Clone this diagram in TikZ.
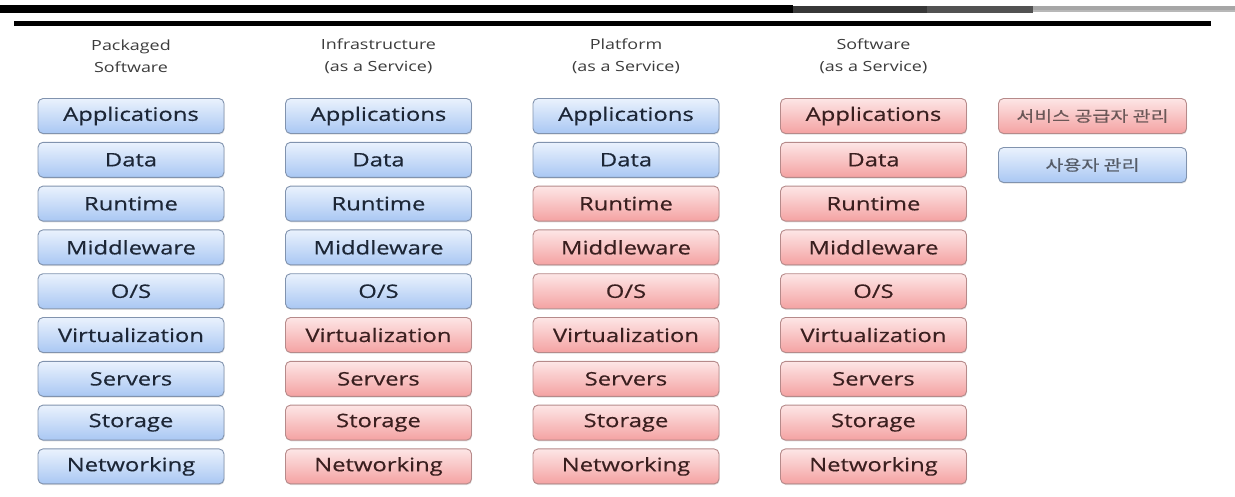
\documentclass[tikz,border=0pt]{standalone}
\usepackage{fontspec}
\setmainfont{Open Sans}[FakeStretch=1.28, FakeBold=0.4]
\newfontfamily\headfont{Open Sans}[FakeStretch=1.28]
\newfontfamily\kofont{Noto Sans CJK KR}[FakeStretch=1.3, FakeBold=0.3]
\usepackage{tikz}
\usetikzlibrary{positioning, shadows}
\definecolor{usertop}{HTML}{EAF2FD}
\definecolor{userbot}{HTML}{A9C7F3}
\definecolor{userline}{HTML}{8193AE}
\definecolor{usertext}{HTML}{1C2636}
\definecolor{vendtop}{HTML}{FDE6E6}
\definecolor{vendbot}{HTML}{F4A2A2}
\definecolor{vendline}{HTML}{B68A8A}
\definecolor{vendtext}{HTML}{3A1F1F}
\definecolor{headtext}{HTML}{3C3C3C}

\begin{document}
\begin{tikzpicture}[x=1pt, y=1pt, node distance=43.8pt]
    \tikzstyle{layer} = [rectangle, draw, rounded corners=5pt, minimum width=186pt, minimum height=35pt, inner sep=0pt, line width=0.9pt, drop shadow={shadow xshift=0.6pt, shadow yshift=-1.2pt, opacity=0.25}, font=\fontsize{18.6}{18.6}\selectfont]
    \tikzstyle{user} = [layer, draw=userline, top color=usertop, bottom color=userbot, text=usertext]
    \tikzstyle{vendor} = [layer, draw=vendline, top color=vendtop, bottom color=vendbot, text=vendtext]
    \tikzstyle{key} = [minimum width=188pt, font=\kofont\fontsize{15}{15}\selectfont]
    \tikzstyle{head} = [align=center, text=headtext, font=\headfont\fontsize{14}{22}\selectfont]

    \useasboundingbox (0,0) rectangle (1235,-496);

    % title rules
    \fill[black] (0,-5) rectangle (793,-13);
    \fill[black!78] (793,-5.5) rectangle (927,-12.5);
    \fill[black!68] (927,-5.5) rectangle (1033,-12.5);
    \fill[black!35] (1033,-6) rectangle (1235,-12);
    \fill[black!28] (1033,-9.5) rectangle (1235,-12);
    \fill[black] (14,-21) rectangle (1211,-25.5);

    % packaged software
    \node [user] (pkgapp) at (131,-116) {Applications};
    \node [user, below of=pkgapp] (pkgdata) {Data};
    \node [user, below of=pkgdata] (pkgrun) {Runtime};
    \node [user, below of=pkgrun] (pkgmid) {Middleware};
    \node [user, below of=pkgmid] (pkgos) {O/S};
    \node [user, below of=pkgos] (pkgvirt) {Virtualization};
    \node [user, below of=pkgvirt] (pkgsrv) {Servers};
    \node [user, below of=pkgsrv] (pkgstor) {Storage};
    \node [user, below of=pkgstor] (pkgnet) {Networking};

    % infrastructure as a service
    \node [user, right of=pkgapp, node distance=247.5pt] (iaasapp) {Applications};
    \node [user, below of=iaasapp] (iaasdata) {Data};
    \node [user, below of=iaasdata] (iaasrun) {Runtime};
    \node [user, below of=iaasrun] (iaasmid) {Middleware};
    \node [user, below of=iaasmid] (iaasos) {O/S};
    \node [vendor, below of=iaasos] (iaasvirt) {Virtualization};
    \node [vendor, below of=iaasvirt] (iaassrv) {Servers};
    \node [vendor, below of=iaassrv] (iaasstor) {Storage};
    \node [vendor, below of=iaasstor] (iaasnet) {Networking};

    % platform as a service
    \node [user, right of=iaasapp, node distance=247.5pt] (paasapp) {Applications};
    \node [user, below of=paasapp] (paasdata) {Data};
    \node [vendor, below of=paasdata] (paasrun) {Runtime};
    \node [vendor, below of=paasrun] (paasmid) {Middleware};
    \node [vendor, below of=paasmid] (paasos) {O/S};
    \node [vendor, below of=paasos] (paasvirt) {Virtualization};
    \node [vendor, below of=paasvirt] (paassrv) {Servers};
    \node [vendor, below of=paassrv] (paasstor) {Storage};
    \node [vendor, below of=paasstor] (paasnet) {Networking};

    % software as a service
    \node [vendor, right of=paasapp, node distance=247.5pt] (saasapp) {Applications};
    \node [vendor, below of=saasapp] (saasdata) {Data};
    \node [vendor, below of=saasdata] (saasrun) {Runtime};
    \node [vendor, below of=saasrun] (saasmid) {Middleware};
    \node [vendor, below of=saasmid] (saasos) {O/S};
    \node [vendor, below of=saasos] (saasvirt) {Virtualization};
    \node [vendor, below of=saasvirt] (saassrv) {Servers};
    \node [vendor, below of=saassrv] (saasstor) {Storage};
    \node [vendor, below of=saasstor] (saasnet) {Networking};

    % column headings
    \node [head, above of=pkgapp, node distance=60pt] (pkghead) {Packaged\\Software};
    \node [head, above of=iaasapp, node distance=60pt] (iaashead) {Infrastructure\\(as a Service)};
    \node [head, above of=paasapp, node distance=60pt] (paashead) {Platform\\(as a Service)};
    \node [head, above of=saasapp, node distance=60pt] (saashead) {Software\\(as a Service)};

    % legend
    \node [vendor, key, right of=saasapp, node distance=219pt, text=vendtext!75] (vendkey) {서비스 공급자 관리};
    \node [user, key, below of=vendkey, node distance=49pt, text=usertext!75] (userkey) {사용자 관리};
\end{tikzpicture}
\end{document}
